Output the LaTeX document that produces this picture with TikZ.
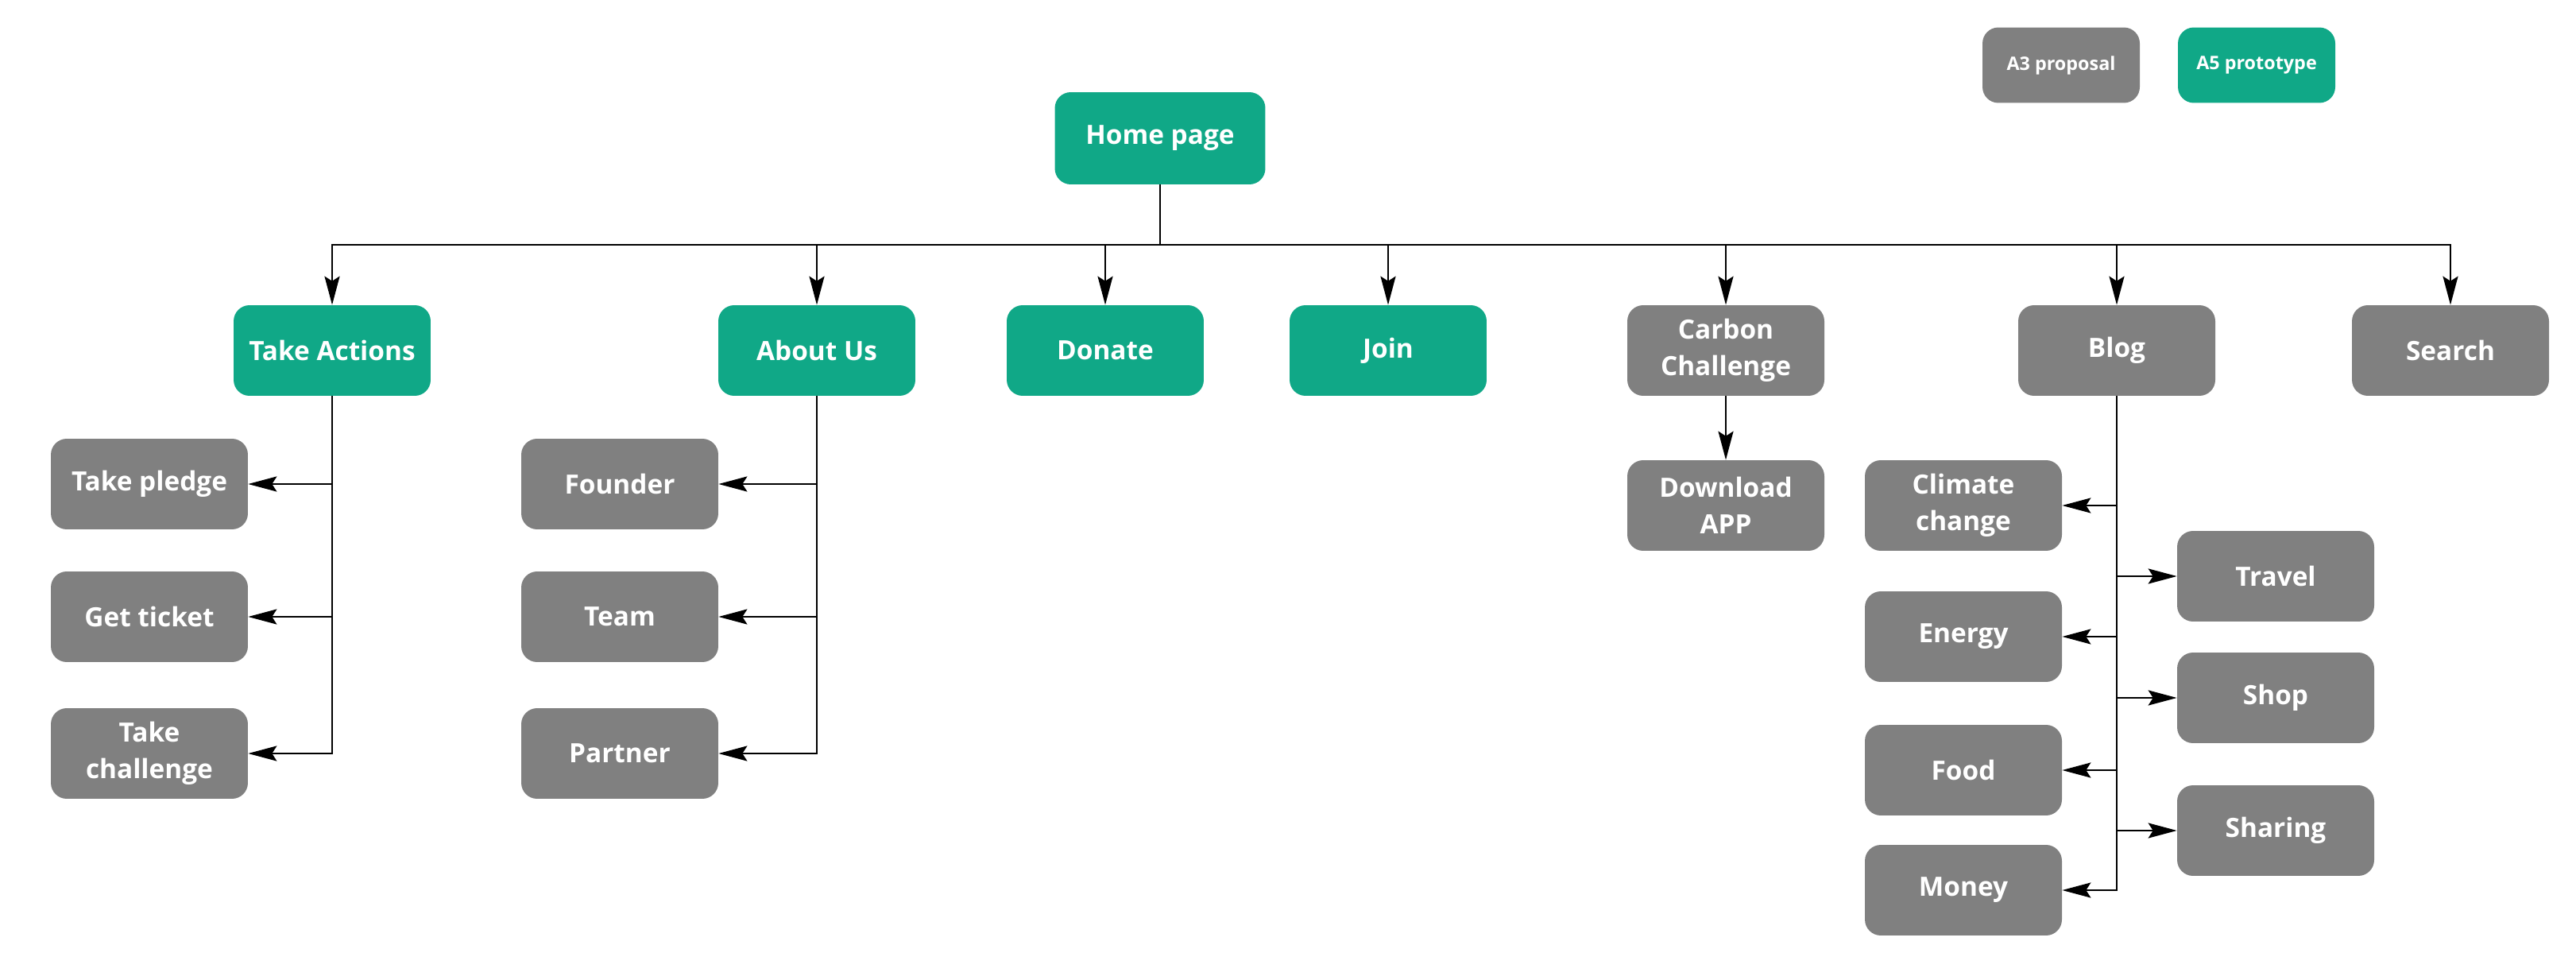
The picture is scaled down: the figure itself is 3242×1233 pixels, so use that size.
\documentclass[tikz,border=0pt]{standalone}
\usepackage{fontspec}
\setmainfont{Open Sans}
\usetikzlibrary{arrows.meta}
\definecolor{proto}{RGB}{16,168,135}
\definecolor{prop}{RGB}{128,128,128}
\begin{document}
\begin{tikzpicture}[x=0.02cm,y=-0.02cm,
  box/.style={rounded corners=0.4cm, inner sep=0pt, minimum width=4.96cm, minimum height=2.28cm,
    text=white, font=\fontsize{19}{26.5}\selectfont\bfseries, align=center},
  protobox/.style={box, fill=proto},
  propbox/.style={box, fill=prop},
  legendbox/.style={rounded corners=0.4cm, inner sep=0pt, minimum width=3.96cm, minimum height=1.9cm,
    text=white, font=\fontsize{13.3}{16}\selectfont\bfseries},
  link/.style={line width=1.5pt, draw=black},
  arr/.style={link, -{Stealth[length=0.72cm,width=0.38cm,inset=0.12cm]}}]
\useasboundingbox (0,0) rectangle (3242,1233);

% legend
\node[legendbox, fill=prop] (lga) at (2594,82) {A3 proposal};
\node[legendbox, fill=proto] (lgb) at (2840,82) {A5 prototype};

% root and first level
\node[protobox, minimum width=5.3cm, minimum height=2.32cm] (home) at (1460,174) {Home page};
\coordinate (bus) at (0,308);

\node[protobox] (ta) at (418,441) {Take Actions};
\node[protobox] (au) at (1028,441) {About Us};
\node[protobox] (dn) at (1391,441) {Donate};
\node[protobox] (jn) at (1747,441) {Join};
\node[propbox] (cc) at (2172,441) {Carbon\\Challenge};
\node[propbox] (bl) at (2664,441) {Blog};
\node[propbox] (sr) at (3084,441) {Search};

% Take Actions children
\node[propbox] (tp) at (188,609) {Take pledge};
\node[propbox] (gt) at (188,776) {Get ticket};
\node[propbox] (tc) at (188,948) {Take\\challenge};

% About Us children
\node[propbox] (fo) at (780,609) {Founder};
\node[propbox] (tm) at (780,776) {Team};
\node[propbox] (pa) at (780,948) {Partner};

% Carbon Challenge child
\node[propbox] (da) at (2172,636) {Download\\APP};

% Blog children
\node[propbox] (cl) at (2471,636) {Climate\\change};
\node[propbox] (en) at (2471,801) {Energy};
\node[propbox] (fd) at (2471,969) {Food};
\node[propbox] (mo) at (2471,1120) {Money};
\node[propbox] (tr) at (2864,725) {Travel};
\node[propbox] (sh) at (2864,878) {Shop};
\node[propbox] (sg) at (2864,1045) {Sharing};

% root bus
\foreach \c in {ta,au,dn,jn,cc,bl,sr}
  \draw[arr] (home.south) -- (home.south |- bus) -| (\c.north);

% side branches
\foreach \c in {tp,gt,tc}
  \draw[arr] (ta.south) |- (\c.east);
\foreach \c in {fo,tm,pa}
  \draw[arr] (au.south) |- (\c.east);
\draw[arr] (cc.south) -- (da.north);
\foreach \c in {cl,en,fd,mo}
  \draw[arr] (bl.south) |- (\c.east);
\foreach \c in {tr,sh,sg}
  \draw[arr] (bl.south) |- (\c.west);
\end{tikzpicture}
\end{document}
